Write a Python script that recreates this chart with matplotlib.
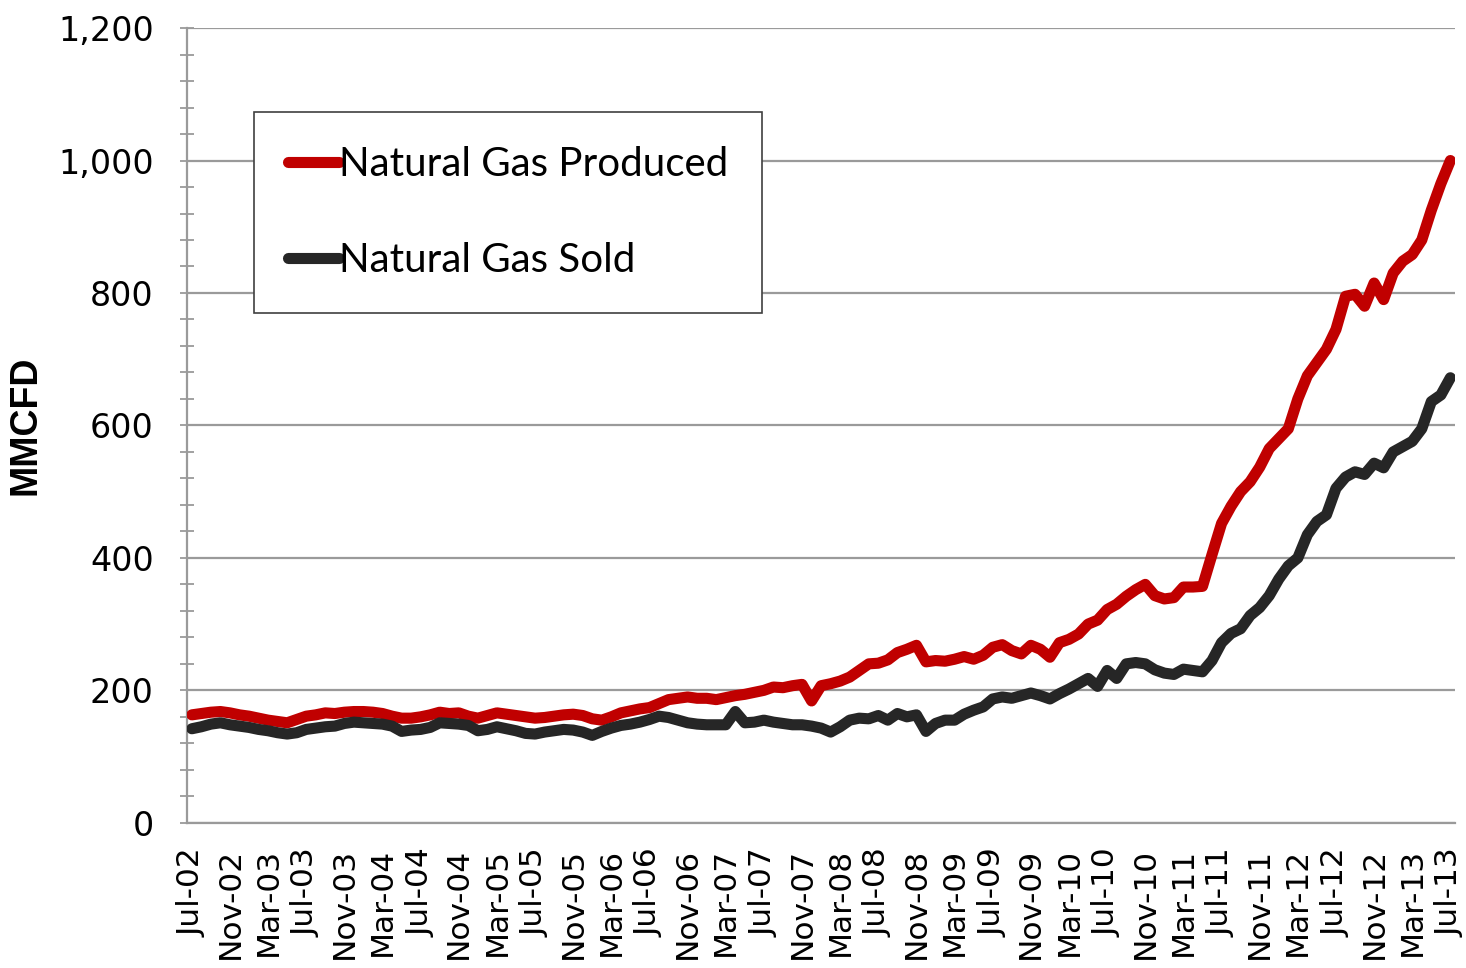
import pandas as pd
import matplotlib
matplotlib.use("Agg")
import matplotlib.pyplot as plt
from matplotlib.ticker import MultipleLocator, FuncFormatter

# monthly data, Jul-02 .. Jul-13 (MMCFD)
months = pd.date_range("2002-07-01", "2013-07-01", freq="MS")
month_labels = [d.strftime("%b-%y") for d in months]

gas_produced = [
    163, 165, 167, 168, 166, 163, 161, 158, 155, 153,
    151, 156, 161, 163, 166, 165, 167, 168, 168, 167,
    165, 161, 158, 158, 160, 163, 167, 165, 166, 161,
    158, 162, 166, 164, 162, 160, 158, 159, 161, 163,
    164, 162, 157, 155, 160, 166, 169, 172, 174, 180,
    186, 188, 190, 188, 188, 186, 189, 192, 194, 197,
    200, 205, 204, 207, 209, 184, 207, 210, 214, 220,
    230, 240, 241, 246, 257, 262, 268, 243, 245, 244,
    247, 251, 247, 253, 265, 269, 260, 255, 268, 262,
    250, 272, 277, 285, 300, 306, 322, 330, 342, 352,
    360, 343, 338, 340, 356, 356, 357, 405, 452, 478,
    500, 515, 537, 565, 580, 595, 640, 675, 695, 715,
    745, 795, 798, 780, 815, 790, 830, 848, 858, 880,
    925, 965, 1000,
]

gas_sold = [
    142, 145, 149, 151, 148, 146, 144, 141, 139, 136,
    134, 136, 141, 143, 145, 146, 150, 152, 151, 150,
    149, 146, 138, 140, 141, 144, 151, 150, 149, 147,
    139, 141, 145, 142, 139, 135, 134, 137, 139, 141,
    140, 137, 132, 138, 143, 147, 149, 152, 156, 161,
    159, 155, 151, 149, 148, 148, 148, 168, 151, 152,
    155, 152, 150, 148, 148, 146, 143, 137, 145, 155,
    158, 157, 162, 155, 165, 160, 163, 138, 150, 155,
    155, 164, 170, 175, 187, 190, 188, 192, 196, 192,
    187, 195, 202, 210, 218, 206, 230, 218, 240, 242,
    240, 231, 226, 224, 232, 230, 228, 245, 272, 286,
    293, 313, 325, 343, 368, 388, 400, 435, 455, 465,
    505, 522, 530, 526, 543, 536, 560, 568, 576, 595,
    636, 646, 672,
]

RED = "#C00000"
DARK = "#262626"
GRID = "#9a9a9a"

fig = plt.figure(figsize=(14.66, 9.68), dpi=100)
ax = fig.add_axes([0.1276, 0.150, 0.865, 0.821])

x = list(range(len(months)))
ax.plot(x, gas_produced, color=RED, lw=8, solid_joinstyle="round",
        solid_capstyle="round", label="Natural Gas Produced", zorder=3)
ax.plot(x, gas_sold, color=DARK, lw=8, solid_joinstyle="round",
        solid_capstyle="round", label="Natural Gas Sold", zorder=3)

# axes styling
ax.set_xlim(-0.5, len(months) - 0.5)
ax.set_ylim(0, 1200)
ax.yaxis.set_major_locator(MultipleLocator(200))
ax.yaxis.set_minor_locator(MultipleLocator(40))
ax.yaxis.set_major_formatter(FuncFormatter(lambda v, p: f"{v:,.0f}"))
ax.grid(axis="y", color=GRID, lw=1.6, zorder=0)
ax.set_axisbelow(True)

for side in ["top", "right"]:
    ax.spines[side].set_visible(False)
for side in ["left", "bottom"]:
    ax.spines[side].set_color(GRID)
    ax.spines[side].set_linewidth(1.6)

ax.tick_params(axis="y", which="both", direction="inout", color=GRID,
               width=1.3, length=10, labelsize=24, pad=19)

ax.set_xticks(x[::4])
ax.set_xticklabels(month_labels[::4], rotation=90, fontsize=22.5)
ax.tick_params(axis="x", length=0, pad=18)

ax.set_ylabel("MMCFD", fontsize=27, fontweight="bold",
              family=["Liberation Sans Narrow", "Liberation Sans"])
ax.yaxis.set_label_coords(-0.113, 0.5)

leg = ax.legend(loc="upper left", bbox_to_anchor=(0.0528, 0.8943),
                borderaxespad=0.0,
                prop={"family": "Lato", "size": 29},
                handlelength=1.25, handletextpad=0.0, labelspacing=1.45,
                borderpad=0.85, fancybox=False, framealpha=1)
leg.get_frame().set_edgecolor("#404040")
leg.get_frame().set_linewidth(1.2)
for line in leg.get_lines():
    line.set_linewidth(8)

fig.savefig("out.png", dpi=100)
